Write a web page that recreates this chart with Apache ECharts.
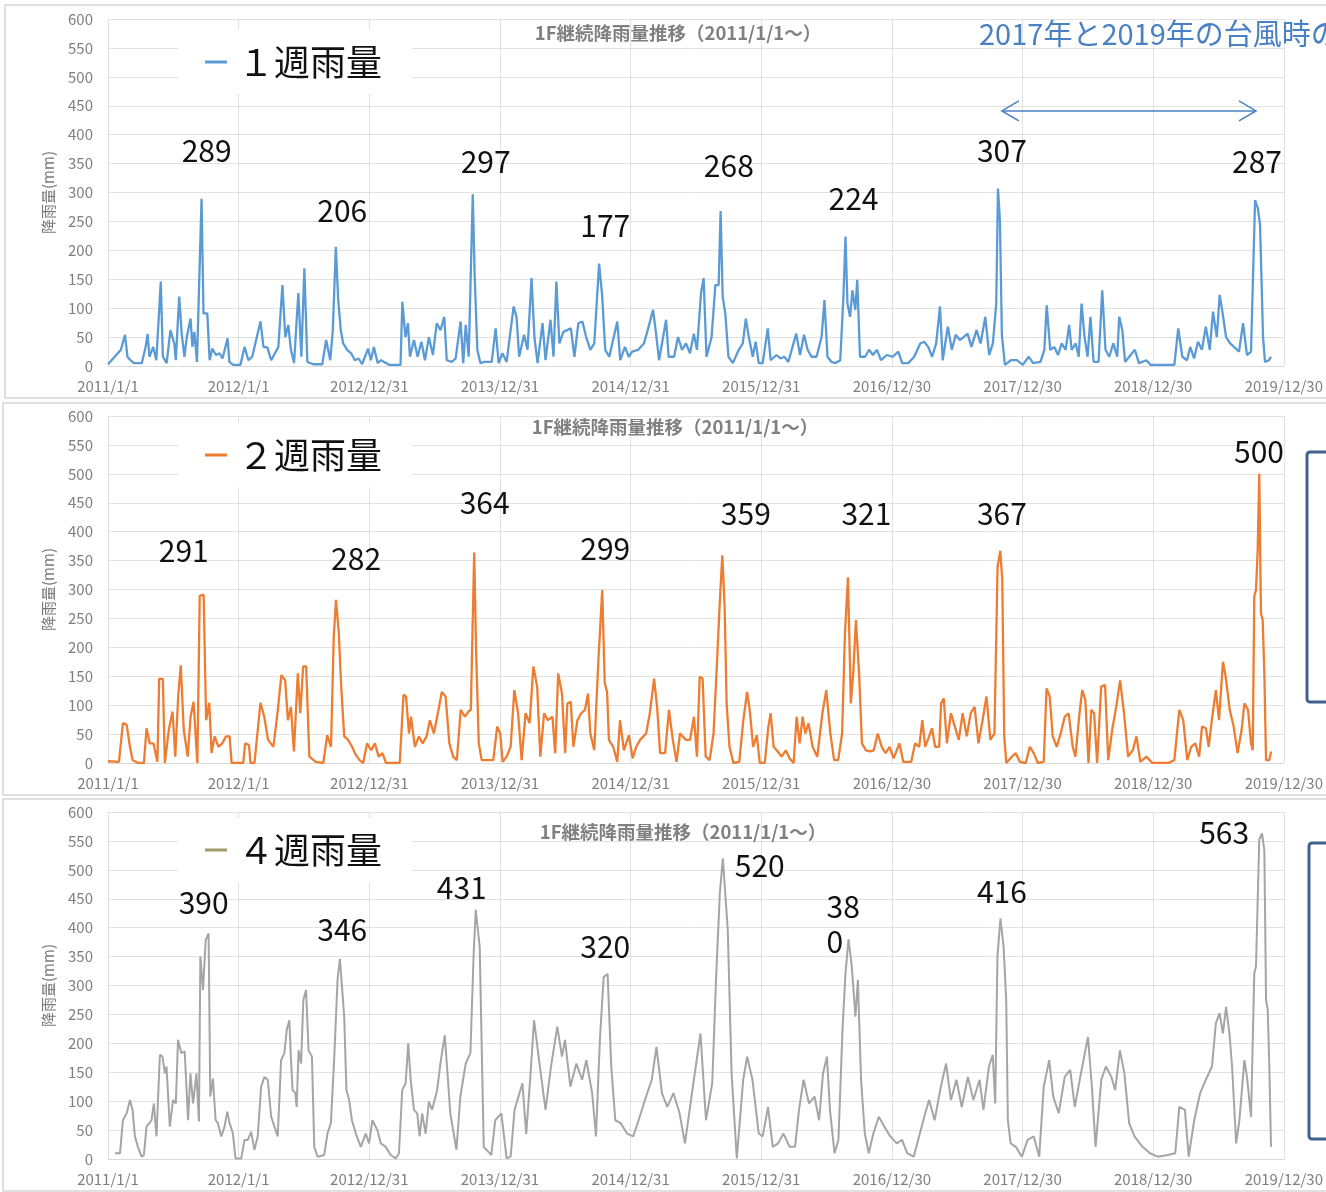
<!DOCTYPE html>
<html>
<head>
<meta charset="utf-8">
<script src="https://cdn.jsdelivr.net/npm/echarts@6/dist/echarts.min.js"></script>
<style>
html,body{margin:0;padding:0;background:#fff;}
#c{width:1326px;height:1192px;}
</style>
</head>
<body>
<div id="c"></div>
<script>
// x values: years since 2011/1/1 (1 unit = 365 days, as the axis ticks)
const tickLabels = ['2011/1/1','2012/1/1','2012/12/31','2013/12/31','2014/12/31','2015/12/31','2016/12/30','2017/12/30','2018/12/30','2019/12/30'];
const seriesNames = ['１週雨量','２週雨量','４週雨量'];
const titleText = '1F継続降雨量推移（2011/1/1〜）';
const noteText = '2017年と2019年の台風時の';
const yAxisName = '降雨量(mm)';

const week1 = [[0,3],[0.099,28],[0.130,54],[0.149,16],[0.172,10],[0.198,5],[0.259,5],[0.288,33],[0.303,55],[0.317,16],[0.346,33],[0.370,10],[0.404,146],[0.420,16],[0.449,5],[0.478,62],[0.507,39],[0.519,10],[0.545,120],[0.564,56],[0.585,16],[0.603,50],[0.632,82],[0.646,33],[0.661,59],[0.681,7],[0.716,289],[0.731,91],[0.760,91],[0.778,10],[0.798,30],[0.827,19],[0.854,22],[0.877,13],[0.915,48],[0.929,7],[0.958,2],[1.014,2],[1.045,33],[1.075,10],[1.104,16],[1.167,77],[1.190,33],[1.220,32],[1.249,10],[1.304,33],[1.335,140],[1.357,50],[1.380,71],[1.400,28],[1.424,5],[1.457,126],[1.480,16],[1.503,169],[1.526,7],[1.571,3],[1.640,3],[1.670,45],[1.701,10],[1.721,62],[1.744,206],[1.762,114],[1.782,62],[1.800,39],[1.831,28],[1.861,22],[1.889,10],[1.918,13],[1.945,3],[1.991,30],[2.012,10],[2.035,33],[2.064,5],[2.090,10],[2.151,2],[2.239,2],[2.253,111],[2.277,50],[2.296,74],[2.311,16],[2.342,45],[2.370,16],[2.399,42],[2.426,10],[2.456,50],[2.487,19],[2.516,74],[2.545,62],[2.574,85],[2.593,10],[2.632,7],[2.661,13],[2.699,77],[2.719,5],[2.738,71],[2.761,16],[2.792,297],[2.807,154],[2.827,28],[2.850,5],[2.880,7],[2.937,7],[2.967,65],[2.990,5],[3.019,22],[3.051,7],[3.105,103],[3.127,85],[3.147,16],[3.185,54],[3.211,28],[3.242,152],[3.264,50],[3.288,5],[3.326,74],[3.349,10],[3.387,80],[3.410,16],[3.432,146],[3.455,39],[3.486,59],[3.514,62],[3.543,65],[3.570,16],[3.600,74],[3.631,77],[3.660,50],[3.692,28],[3.722,39],[3.759,177],[3.782,123],[3.806,28],[3.837,16],[3.898,77],[3.921,10],[3.957,33],[3.986,16],[4.012,25],[4.058,28],[4.102,39],[4.131,62],[4.172,97],[4.195,56],[4.218,10],[4.272,80],[4.291,16],[4.333,16],[4.363,50],[4.394,28],[4.424,39],[4.455,22],[4.484,56],[4.508,28],[4.539,126],[4.559,152],[4.581,16],[4.620,50],[4.649,140],[4.674,140],[4.689,268],[4.705,120],[4.725,91],[4.749,16],[4.783,5],[4.828,28],[4.859,39],[4.882,82],[4.905,50],[4.935,16],[4.957,42],[4.981,5],[5.011,5],[5.050,65],[5.072,10],[5.117,19],[5.147,13],[5.177,16],[5.207,7],[5.268,56],[5.297,19],[5.328,54],[5.355,28],[5.385,16],[5.423,16],[5.462,50],[5.484,114],[5.507,16],[5.538,7],[5.568,5],[5.605,10],[5.629,120],[5.645,224],[5.660,108],[5.680,85],[5.698,131],[5.720,97],[5.735,149],[5.756,16],[5.795,16],[5.825,28],[5.855,19],[5.886,28],[5.916,10],[5.961,19],[6.006,16],[6.049,25],[6.079,5],[6.125,5],[6.171,16],[6.217,39],[6.247,42],[6.278,33],[6.308,16],[6.339,39],[6.368,103],[6.389,10],[6.428,68],[6.459,28],[6.489,54],[6.519,45],[6.549,50],[6.579,56],[6.609,33],[6.648,62],[6.679,39],[6.715,85],[6.745,19],[6.773,39],[6.799,108],[6.812,307],[6.827,252],[6.842,54],[6.865,2],[6.911,10],[6.957,10],[7.002,2],[7.047,16],[7.082,5],[7.137,7],[7.167,28],[7.185,105],[7.212,28],[7.243,33],[7.272,19],[7.300,39],[7.330,28],[7.357,71],[7.376,28],[7.407,39],[7.430,16],[7.452,108],[7.475,50],[7.498,16],[7.520,85],[7.544,7],[7.582,7],[7.610,131],[7.635,28],[7.664,16],[7.695,39],[7.725,16],[7.740,85],[7.764,62],[7.785,7],[7.816,16],[7.860,28],[7.891,5],[7.948,10],[7.979,2],[8.162,2],[8.192,65],[8.223,16],[8.259,10],[8.284,33],[8.313,13],[8.343,42],[8.373,28],[8.403,68],[8.433,28],[8.458,94],[8.487,50],[8.509,123],[8.528,97],[8.558,50],[8.589,39],[8.619,33],[8.657,25],[8.688,74],[8.718,19],[8.749,25],[8.780,287],[8.801,273],[8.818,244],[8.841,50],[8.856,7],[8.886,10],[8.902,16]];

const week2 = [[0,3],[0.084,2],[0.114,69],[0.143,66],[0.168,28],[0.188,5],[0.229,0],[0.275,0],[0.295,60],[0.319,34],[0.348,34],[0.378,2],[0.392,146],[0.420,145],[0.435,0],[0.465,57],[0.494,89],[0.515,11],[0.538,118],[0.557,169],[0.580,57],[0.610,11],[0.632,80],[0.655,106],[0.684,0],[0.702,289],[0.732,291],[0.751,74],[0.775,104],[0.793,17],[0.816,46],[0.845,28],[0.874,34],[0.903,46],[0.931,46],[0.946,0],[1.035,0],[1.050,34],[1.079,31],[1.091,0],[1.121,0],[1.167,104],[1.196,80],[1.225,40],[1.266,28],[1.297,86],[1.327,152],[1.356,143],[1.377,74],[1.400,97],[1.423,20],[1.453,155],[1.472,86],[1.494,167],[1.517,167],[1.541,11],[1.590,2],[1.648,0],[1.678,48],[1.707,28],[1.728,218],[1.745,282],[1.766,227],[1.785,132],[1.808,46],[1.838,40],[1.868,28],[1.897,14],[1.926,5],[1.953,0],[1.983,34],[2.014,22],[2.043,34],[2.072,11],[2.101,17],[2.128,0],[2.233,0],[2.262,118],[2.281,115],[2.304,51],[2.319,80],[2.349,28],[2.380,46],[2.409,34],[2.438,46],[2.464,74],[2.494,51],[2.525,86],[2.555,123],[2.584,115],[2.613,34],[2.642,11],[2.670,5],[2.700,92],[2.731,80],[2.759,89],[2.777,92],[2.803,364],[2.818,190],[2.838,34],[2.860,5],[2.949,5],[2.979,63],[3.002,51],[3.021,2],[3.051,11],[3.082,28],[3.110,126],[3.139,86],[3.166,5],[3.196,86],[3.227,69],[3.256,167],[3.285,132],[3.309,11],[3.338,86],[3.367,74],[3.402,80],[3.423,17],[3.446,155],[3.475,120],[3.499,17],[3.516,103],[3.542,106],[3.562,28],[3.593,74],[3.622,86],[3.651,92],[3.674,120],[3.692,51],[3.722,22],[3.753,175],[3.768,178],[3.783,299],[3.802,138],[3.820,123],[3.834,40],[3.867,28],[3.898,2],[3.919,74],[3.949,22],[3.987,48],[4.016,8],[4.043,28],[4.073,40],[4.119,51],[4.147,86],[4.180,146],[4.203,97],[4.226,17],[4.264,17],[4.294,92],[4.323,40],[4.352,2],[4.378,51],[4.424,40],[4.455,40],[4.485,80],[4.508,11],[4.529,149],[4.551,146],[4.575,11],[4.605,5],[4.635,51],[4.661,172],[4.681,270],[4.702,359],[4.720,270],[4.735,103],[4.757,28],[4.787,0],[4.832,2],[4.863,74],[4.892,123],[4.912,92],[4.938,28],[4.966,48],[4.989,0],[5.027,0],[5.053,60],[5.072,86],[5.095,28],[5.126,20],[5.156,11],[5.187,22],[5.217,8],[5.248,0],[5.271,80],[5.294,34],[5.317,80],[5.338,51],[5.362,69],[5.393,28],[5.429,11],[5.468,86],[5.498,126],[5.529,51],[5.558,5],[5.589,5],[5.619,51],[5.641,224],[5.664,321],[5.686,103],[5.704,155],[5.725,247],[5.749,155],[5.771,34],[5.801,22],[5.832,20],[5.861,22],[5.892,51],[5.922,28],[5.952,17],[5.982,28],[6.013,8],[6.058,34],[6.087,2],[6.148,2],[6.178,34],[6.209,28],[6.233,74],[6.255,28],[6.285,46],[6.307,60],[6.331,28],[6.362,28],[6.377,103],[6.397,112],[6.421,34],[6.452,86],[6.482,63],[6.512,40],[6.542,86],[6.573,46],[6.603,86],[6.633,97],[6.663,34],[6.694,74],[6.724,115],[6.754,40],[6.785,51],[6.809,339],[6.830,367],[6.845,316],[6.860,46],[6.876,0],[6.918,11],[6.949,17],[6.979,2],[7.025,0],[7.056,28],[7.086,17],[7.117,0],[7.162,2],[7.184,129],[7.208,115],[7.231,46],[7.262,28],[7.292,51],[7.323,80],[7.353,86],[7.384,28],[7.405,11],[7.436,86],[7.457,126],[7.481,109],[7.505,0],[7.526,92],[7.548,86],[7.571,0],[7.602,132],[7.632,135],[7.656,5],[7.686,57],[7.717,97],[7.747,143],[7.777,86],[7.808,11],[7.844,22],[7.872,46],[7.902,2],[7.948,11],[7.994,0],[8.116,0],[8.162,5],[8.200,92],[8.230,74],[8.261,5],[8.291,28],[8.322,34],[8.352,11],[8.374,63],[8.404,60],[8.425,28],[8.449,74],[8.480,126],[8.504,74],[8.534,175],[8.555,149],[8.586,92],[8.616,63],[8.646,17],[8.677,57],[8.698,103],[8.726,92],[8.749,34],[8.762,22],[8.774,288],[8.787,299],[8.800,368],[8.812,500],[8.825,259],[8.838,248],[8.851,155],[8.864,5],[8.889,5],[8.902,20]];

const week4 = [[0.053,10],[0.092,10],[0.114,67],[0.143,79],[0.168,102],[0.188,85],[0.206,39],[0.229,21],[0.257,4],[0.275,7],[0.295,56],[0.333,67],[0.351,96],[0.371,39],[0.397,180],[0.417,177],[0.435,148],[0.448,160],[0.460,163],[0.473,56],[0.498,102],[0.519,96],[0.536,206],[0.562,183],[0.587,186],[0.613,67],[0.631,148],[0.651,96],[0.677,148],[0.696,65],[0.707,350],[0.727,292],[0.748,379],[0.770,390],[0.783,108],[0.803,139],[0.824,67],[0.841,62],[0.867,39],[0.892,56],[0.913,82],[0.931,62],[0.956,44],[0.976,1],[1.020,1],[1.045,33],[1.070,33],[1.096,47],[1.121,16],[1.146,39],[1.172,125],[1.198,142],[1.223,137],[1.249,73],[1.274,56],[1.299,39],[1.325,171],[1.350,183],[1.368,223],[1.388,240],[1.401,171],[1.413,119],[1.434,114],[1.444,90],[1.459,188],[1.478,165],[1.495,275],[1.516,292],[1.535,188],[1.561,177],[1.579,21],[1.604,4],[1.655,7],[1.680,44],[1.706,62],[1.732,177],[1.757,310],[1.775,346],[1.795,286],[1.808,246],[1.825,119],[1.846,102],[1.867,67],[1.897,44],[1.935,21],[1.973,44],[1.998,27],[2.024,67],[2.062,50],[2.088,27],[2.126,21],[2.164,7],[2.202,1],[2.227,10],[2.252,119],[2.278,131],[2.298,200],[2.317,137],[2.342,85],[2.367,79],[2.385,39],[2.405,79],[2.431,44],[2.456,99],[2.481,85],[2.519,119],[2.548,171],[2.578,214],[2.620,79],[2.667,16],[2.697,108],[2.738,165],[2.774,183],[2.798,350],[2.815,431],[2.845,367],[2.876,21],[2.934,7],[2.964,67],[3.011,79],[3.051,1],[3.082,4],[3.112,85],[3.172,131],[3.201,43],[3.231,137],[3.261,240],[3.303,165],[3.349,85],[3.391,160],[3.439,229],[3.475,177],[3.498,206],[3.539,125],[3.585,165],[3.629,137],[3.661,171],[3.706,114],[3.735,39],[3.765,206],[3.794,315],[3.824,320],[3.852,160],[3.883,67],[3.924,62],[3.973,44],[4.020,39],[4.061,67],[4.119,108],[4.162,137],[4.198,194],[4.240,114],[4.281,90],[4.328,114],[4.375,79],[4.416,27],[4.477,125],[4.535,217],[4.577,67],[4.625,131],[4.654,310],[4.683,459],[4.706,520],[4.744,396],[4.773,148],[4.813,1],[4.862,137],[4.892,177],[4.933,137],[4.981,44],[5.011,39],[5.052,90],[5.088,21],[5.129,27],[5.170,44],[5.217,21],[5.259,21],[5.289,85],[5.324,137],[5.366,96],[5.408,108],[5.443,67],[5.473,148],[5.503,177],[5.526,85],[5.561,10],[5.591,33],[5.622,223],[5.645,321],[5.668,380],[5.693,333],[5.721,246],[5.740,310],[5.764,137],[5.793,44],[5.823,10],[5.858,44],[5.900,73],[5.942,56],[5.988,39],[6.037,27],[6.078,33],[6.117,10],[6.167,4],[6.214,44],[6.255,79],[6.285,102],[6.327,67],[6.375,125],[6.415,165],[6.452,102],[6.494,137],[6.535,90],[6.582,142],[6.624,102],[6.671,137],[6.701,85],[6.743,160],[6.772,180],[6.791,96],[6.808,350],[6.831,416],[6.855,367],[6.875,275],[6.888,67],[6.909,27],[6.949,21],[6.995,4],[7.039,33],[7.086,39],[7.128,4],[7.162,125],[7.204,171],[7.235,108],[7.277,79],[7.323,142],[7.365,154],[7.400,90],[7.442,142],[7.472,177],[7.501,211],[7.531,125],[7.559,21],[7.603,137],[7.638,160],[7.680,142],[7.709,119],[7.745,188],[7.780,148],[7.816,62],[7.857,39],[7.918,21],[7.976,10],[8.035,4],[8.112,7],[8.169,10],[8.200,90],[8.243,85],[8.272,4],[8.314,67],[8.360,114],[8.403,137],[8.450,160],[8.480,235],[8.508,252],[8.534,217],[8.558,263],[8.584,217],[8.604,160],[8.635,27],[8.660,67],[8.698,171],[8.718,142],[8.749,73],[8.774,321],[8.787,333],[8.812,552],[8.833,563],[8.851,534],[8.864,275],[8.877,258],[8.889,160],[8.902,21]];

// peak annotations: [text, x (years), y (mm)] – label anchor in data units
const peaks1 = [['289',0.755,373],['206',1.793,268],['297',2.891,353],['177',3.806,242],['268',4.752,346],['224',5.706,290],['307',6.842,373],['287',8.795,353]];
const peaks2 = [['291',0.580,367],['282',1.899,354],['364',2.883,450],['299',3.806,370],['359',4.882,432],['321',5.805,432],['367',6.842,432],['500',8.810,538]];
const peaks3 = [['390',0.732,443],['346',1.793,396],['431',2.708,470],['320',3.806,368],['520',4.989,507],['38\n0',5.500,407],['416',6.842,463],['563',8.543,565]];
// typhoon comparison arrow, in data units of the top panel: [x from, x to, y]
const arrowSpan = [6.842, 8.787, 441];

const lineColors = ['#5b9bd5','#ed7d31','#a5a5a5'];
const lineWidths = [2.3, 2.3, 2];
const legendColors = ['#5b9bd5','#ed7d31','#a39b6b'];
const FONT = '"Noto Sans CJK JP", "Noto Sans", sans-serif';
const gridTops = [19, 416, 812];
const gridH = 347;
const allData = [week1, week2, week4];
const allPeaks = [peaks1, peaks2, peaks3];

const chart = echarts.init(document.getElementById('c'), null, {renderer:'canvas'});

const grids = gridTops.map(t => ({left:108, width:1180, top:t, height:gridH, containLabel:false}));
const xAxes = gridTops.map((t,i) => ({
  type:'value', gridIndex:i, min:0, max:9, interval:1,
  axisLine:{show:true, lineStyle:{color:'#d9d9d9', width:1}},
  axisTick:{show:false},
  splitLine:{show:true, lineStyle:{color:'#e1e1e1', width:1}},
  axisLabel:{margin:13, color:'#7f7f7f', fontSize:15, fontFamily:FONT, formatter:v => tickLabels[Math.round(v)] || ''}
}));
const yAxes = gridTops.map((t,i) => ({
  type:'value', gridIndex:i, min:0, max:600, interval:50,
  name: yAxisName, nameLocation:'middle', nameGap:52,
  nameTextStyle:{color:'#7a7a7a', fontSize:15, fontFamily:FONT},
  axisLine:{show:false}, axisTick:{show:false},
  splitLine:{show:true, lineStyle:{color:'#e1e1e1', width:1}},
  axisLabel:{margin:15, color:'#7f7f7f', fontSize:15, fontFamily:FONT}
}));
const series = allData.map((d,i) => ({
  name: seriesNames[i], type:'line', xAxisIndex:i, yAxisIndex:i,
  data:d, showSymbol:false, symbol:'none', animation:false,
  lineStyle:{color:lineColors[i], width:lineWidths[i]}, itemStyle:{color:lineColors[i]},
  emphasis:{disabled:true},
  markPoint:{
    symbol:'circle', symbolSize:1, itemStyle:{color:'rgba(0,0,0,0)'}, silent:true, animation:false,
    label:{show:true, position:'inside', color:'#111', fontSize:30, fontFamily:FONT, formatter:p => p.name},
    data: allPeaks[i].map(p => {
      const item = {name:p[0], coord:[p[1], p[2]]};
      if (p[0].indexOf('\n') >= 0) item.label = {align:'left', lineHeight:35};
      return item;
    })
  }
}));
const legends = gridTops.map((t,i) => ({
  data:[{name:seriesNames[i], itemStyle:{color:legendColors[i]}}],
  left:178, top:[30, 423, 818][i],
  orient:'horizontal', icon:'rect', itemWidth:22, itemHeight:3,
  padding:[11, 30, 11, 27], backgroundColor:'#ffffff',
  selectedMode:false,
  textStyle:{fontSize:36, color:'#111', fontFamily:FONT, lineHeight:42, padding:[0,0,0,6]}
}));

chart.setOption({
  animation:false,
  backgroundColor:'#ffffff',
  grid:grids, xAxis:xAxes, yAxis:yAxes, series:series, legend:legends
});

// annotations drawn from data-space positions
const a0 = chart.convertToPixel({gridIndex:0}, [arrowSpan[0], arrowSpan[2]]);
const a1 = chart.convertToPixel({gridIndex:0}, [arrowSpan[1], arrowSpan[2]]);
const blue = '#4a80c4';
const titleCenters = [[678,33],[675,427],[683,832]];
chart.setOption({
  graphic:[
    {type:'rect', shape:{x:5, y:5, width:1330, height:393}, style:{fill:'none', stroke:'#d6d6d6', lineWidth:1.5}, silent:true},
    {type:'rect', shape:{x:3, y:403, width:1330, height:392}, style:{fill:'none', stroke:'#d6d6d6', lineWidth:1.5}, silent:true},
    {type:'rect', shape:{x:3, y:799, width:1330, height:392}, style:{fill:'none', stroke:'#d6d6d6', lineWidth:1.5}, silent:true},
    ...titleCenters.map(c => ({type:'text', x:c[0], y:c[1], style:{text:titleText, align:'center', verticalAlign:'middle', fill:'#808080', font:'bold 18.5px ' + FONT}, silent:true})),
    {type:'text', x:979, y:34, style:{text:noteText, align:'left', verticalAlign:'middle', fill:blue, font:'29px ' + FONT}, silent:true},
    {type:'line', shape:{x1:a0[0], y1:a0[1], x2:a1[0], y2:a1[1]}, style:{stroke:blue, lineWidth:1.5}, silent:true},
    {type:'polyline', shape:{points:[[a0[0]+17, a0[1]-10],[a0[0], a0[1]],[a0[0]+17, a0[1]+10]]}, style:{stroke:blue, lineWidth:1.5, fill:'none'}, silent:true},
    {type:'polyline', shape:{points:[[a1[0]-17, a1[1]-10],[a1[0], a1[1]],[a1[0]-17, a1[1]+10]]}, style:{stroke:blue, lineWidth:1.5, fill:'none'}, silent:true},
    {type:'rect', shape:{x:1307, y:452, width:60, height:250, r:3}, style:{fill:'none', stroke:'#41608e', lineWidth:3}, silent:true},
    {type:'rect', shape:{x:1309, y:843, width:60, height:296, r:3}, style:{fill:'none', stroke:'#41608e', lineWidth:3}, silent:true}
  ]
});
</script>
</body>
</html>
